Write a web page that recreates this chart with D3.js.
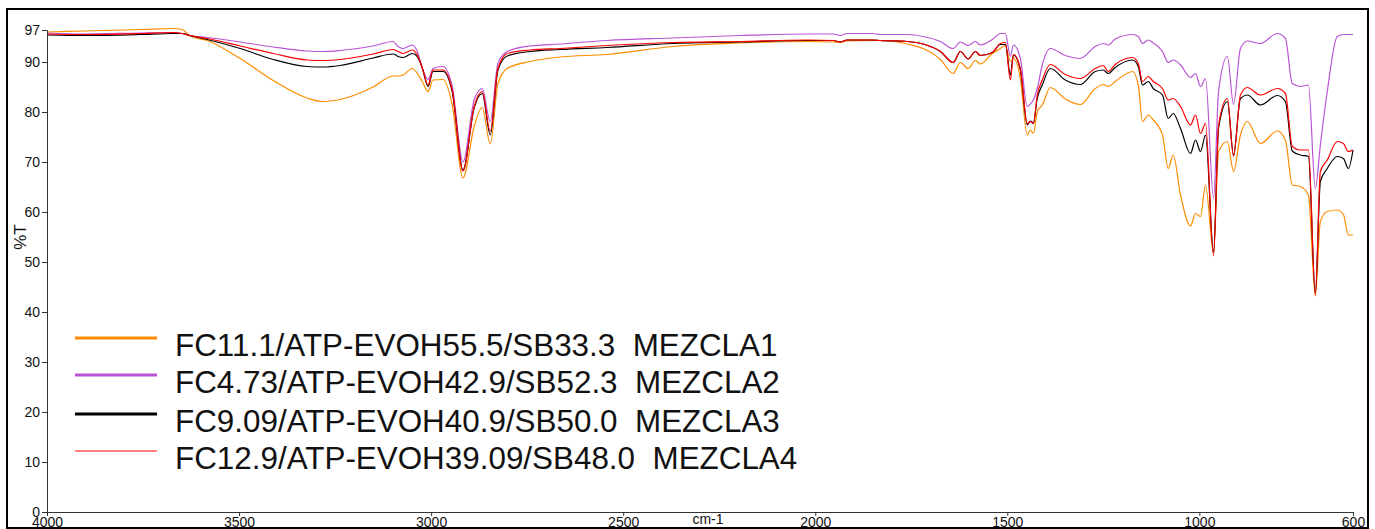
<!DOCTYPE html>
<html>
<head>
<meta charset="utf-8">
<script src="https://cdn.jsdelivr.net/npm/d3@7"></script>
<style>
  html, body { margin: 0; padding: 0; background: #fff; }
  svg { display: block; }
  text { font-family: "Liberation Sans", Arial, sans-serif; }
</style>
</head>
<body>
<svg id="chart" width="1375" height="529"></svg>
<script>
// Wavenumbers (cm-1), shared by all series
const wavenumbers = [4000,3906,3758,3672,3648,3628,3583,3497,3411,3323,3281,3237,3151,3099,3086,3073,3049,3036,3023,3008,
  2995,2969,2945,2917,2888,2867,2846,2826,2802,2742,2664,2542,2370,2195,2021,1953,1935,1917,1849,1831,
  1760,1719,1674,1641,1622,1602,1583,1570,1539,1518,1505,1492,1484,1466,1448,1440,1432,1422,1409,1388,
  1349,1310,1271,1250,1237,1219,1174,1159,1148,1133,1120,1096,1081,1068,1049,1023,1010,997,984,963,
  950,927,911,893,875,841,797,776,758,737,716,698,685,667,641,625,612,600];

const mezcla1 = [96.0,96.2,96.5,96.7,96.5,95.2,94.3,90.7,86.3,82.8,82.1,82.5,85.0,87.2,87.2,87.4,88.7,87.7,86.1,84.1,
  86.4,86.5,81.4,66.8,77.1,80.9,73.6,85.7,88.7,90.1,91.0,91.5,93.1,93.8,94.1,94.0,93.9,94.2,94.3,94.3,
  93.6,92.7,90.5,87.7,89.9,88.7,90.3,89.6,91.7,92.7,93.3,90.1,90.7,86.7,75.4,76.4,75.7,80.1,81.4,84.9,
  82.6,81.5,84.7,85.5,85.1,86.1,88.1,85.4,78.1,79.4,78.4,75.4,68.7,71.4,63.4,57.2,59.7,59.1,65.4,51.8,
  72.1,74.1,68.1,75.4,78.1,73.7,76.2,74.4,65.4,65.1,63.4,43.2,58.1,60.1,60.4,59.5,55.4,55.4];

const mezcla2 = [95.8,95.6,95.8,95.9,95.7,95.3,94.9,94.0,93.0,92.2,92.1,92.3,93.2,94.1,93.1,92.7,93.4,92.1,88.8,86.5,
  88.7,89.1,85.1,70.0,82.4,84.7,78.1,89.7,92.1,93.2,93.6,94.3,94.8,95.3,95.6,95.6,95.3,95.7,95.7,95.5,
  95.5,95.1,94.1,92.7,94.0,93.3,94.1,93.4,94.5,95.7,95.7,91.1,93.4,90.7,81.1,81.6,82.4,84.7,89.4,92.7,
  91.3,90.7,93.1,93.7,93.4,94.6,95.5,95.1,93.7,94.4,93.8,92.1,89.9,90.4,89.4,86.9,87.7,85.1,86.7,62.7,
  84.1,91.1,81.5,92.7,94.2,93.7,95.7,94.7,85.7,85.1,85.4,64.7,73.4,84.1,95.1,95.5,95.5,95.5];

const mezcla3 = [95.4,95.3,95.5,95.7,95.7,95.3,94.5,92.7,90.5,89.1,89.0,89.3,90.8,91.6,91.1,90.9,91.7,91.1,88.8,85.1,
  88.1,88.1,84.0,68.4,80.8,83.7,75.4,88.4,91.2,92.1,92.5,92.9,93.7,94.0,94.3,94.3,94.0,94.4,94.4,94.3,
  94.1,93.6,92.1,89.9,92.1,90.6,92.1,91.3,91.9,93.5,93.5,87.4,91.4,88.4,77.4,78.2,77.8,82.7,85.4,88.7,
  86.4,85.5,88.1,88.4,87.7,88.9,90.4,89.1,85.4,86.1,84.7,83.4,78.7,79.7,76.7,71.7,74.4,72.1,75.4,52.0,
  76.8,82.1,71.4,82.7,83.4,81.4,83.3,82.1,72.2,71.4,71.1,43.8,66.1,68.7,71.1,70.7,68.7,72.4];

const mezcla4 = [95.6,95.5,95.7,95.9,95.7,95.3,94.7,93.2,91.7,90.4,90.3,90.5,91.6,92.5,92.1,91.7,92.4,91.4,88.8,85.4,
  88.4,88.4,84.4,68.2,81.1,84.1,76.1,88.7,91.7,92.4,92.7,93.3,93.9,94.1,94.4,94.3,94.0,94.4,94.4,94.3,
  94.1,93.6,92.1,89.9,92.1,90.6,92.1,91.3,91.9,93.7,93.9,86.4,91.5,88.7,77.7,78.1,77.7,83.4,86.4,89.5,
  87.5,86.7,88.7,89.3,88.1,89.5,90.9,89.7,86.1,87.1,86.1,84.7,82.4,82.7,81.1,77.4,79.4,75.7,77.7,51.2,
  77.4,82.7,71.1,83.4,84.9,83.4,84.7,83.7,73.1,72.4,72.4,43.4,68.1,70.4,74.1,73.7,72.1,72.4];

const seriesNames = [
  "FC11.1/ATP-EVOH55.5/SB33.3  MEZCLA1",
  "FC4.73/ATP-EVOH42.9/SB52.3  MEZCLA2",
  "FC9.09/ATP-EVOH40.9/SB50.0  MEZCLA3",
  "FC12.9/ATP-EVOH39.09/SB48.0  MEZCLA4"
];
const seriesColors = ["#ff8c00", "#b954d6", "#000000", "#ff0000"];
const legendWidths = [3, 3, 3, 1.2];

const xTicks = [4000, 3500, 3000, 2500, 2000, 1500, 1000, 600];
const yTicks = [0, 10, 20, 30, 40, 50, 60, 70, 80, 90, 96.4];
const yTickLabels = ["0", "10", "20", "30", "40", "50", "60", "70", "80", "90", "97"];
const xLabel = "cm-1";
const yLabel = "%T";

const svg = d3.select("#chart");

const x = d3.scaleLinear().domain([4000, 600]).range([47, 1353]);
const y = d3.scaleLinear().domain([0, 96.4]).range([512, 30]);

const allSeries = [mezcla1, mezcla2, mezcla3, mezcla4];

// lines
const line = d3.line()
  .x((d, i) => x(wavenumbers[i]))
  .y(d => y(d))
  .curve(d3.curveMonotoneX);

svg.append("g").selectAll("path")
  .data(allSeries)
  .join("path")
  .attr("d", d => line(d))
  .attr("fill", "none")
  .attr("stroke", (d, i) => seriesColors[i])
  .attr("stroke-width", 1.2)
  .attr("stroke-linejoin", "round");

// axes
const xAxis = d3.axisBottom(x).tickValues(xTicks).tickSize(4).tickPadding(1).tickFormat(d3.format("d"));
const gx = svg.append("g").attr("transform", "translate(0,512)").call(xAxis);
gx.selectAll("text").attr("font-size", 14).attr("fill", "#111").attr("font-family", "Liberation Sans, Arial, sans-serif");
gx.select(".domain").attr("stroke", "#333");
gx.selectAll(".tick line").attr("stroke", "#333");

const yAxis = d3.axisLeft(y).tickValues(yTicks).tickSize(5).tickPadding(2)
  .tickFormat((d, i) => yTickLabels[i]);
const gy = svg.append("g").attr("transform", "translate(47,0)").call(yAxis);
gy.selectAll("text").attr("font-size", 14).attr("fill", "#111").attr("font-family", "Liberation Sans, Arial, sans-serif");
gy.select(".domain").attr("stroke", "#333");
gy.selectAll(".tick line").attr("stroke", "#333");

// axis labels
svg.append("text")
  .attr("x", 708).attr("y", 524)
  .attr("text-anchor", "middle")
  .attr("font-size", 14).attr("fill", "#111")
  .text(xLabel);

svg.append("text")
  .attr("transform", "translate(26,237) rotate(-90)")
  .attr("text-anchor", "middle")
  .attr("font-size", 17).attr("fill", "#111")
  .text(yLabel);

// legend
const legendRows = [338, 375, 414, 451];
const lg = svg.append("g");
seriesNames.forEach((name, i) => {
  lg.append("line")
    .attr("x1", 75).attr("x2", 157)
    .attr("y1", legendRows[i]).attr("y2", legendRows[i])
    .attr("stroke", seriesColors[i])
    .attr("stroke-width", legendWidths[i]);
  lg.append("text")
    .attr("x", 175).attr("y", legendRows[i] + 18)
    .attr("font-size", 31.4)
    .attr("fill", "#111")
    .attr("xml:space", "preserve")
    .style("white-space", "pre")
    .text(name);
});

// outer frame
svg.append("rect")
  .attr("x", 7).attr("y", 9)
  .attr("width", 1361).attr("height", 519)
  .attr("fill", "none")
  .attr("stroke", "#000")
  .attr("stroke-width", 2);
</script>
</body>
</html>
